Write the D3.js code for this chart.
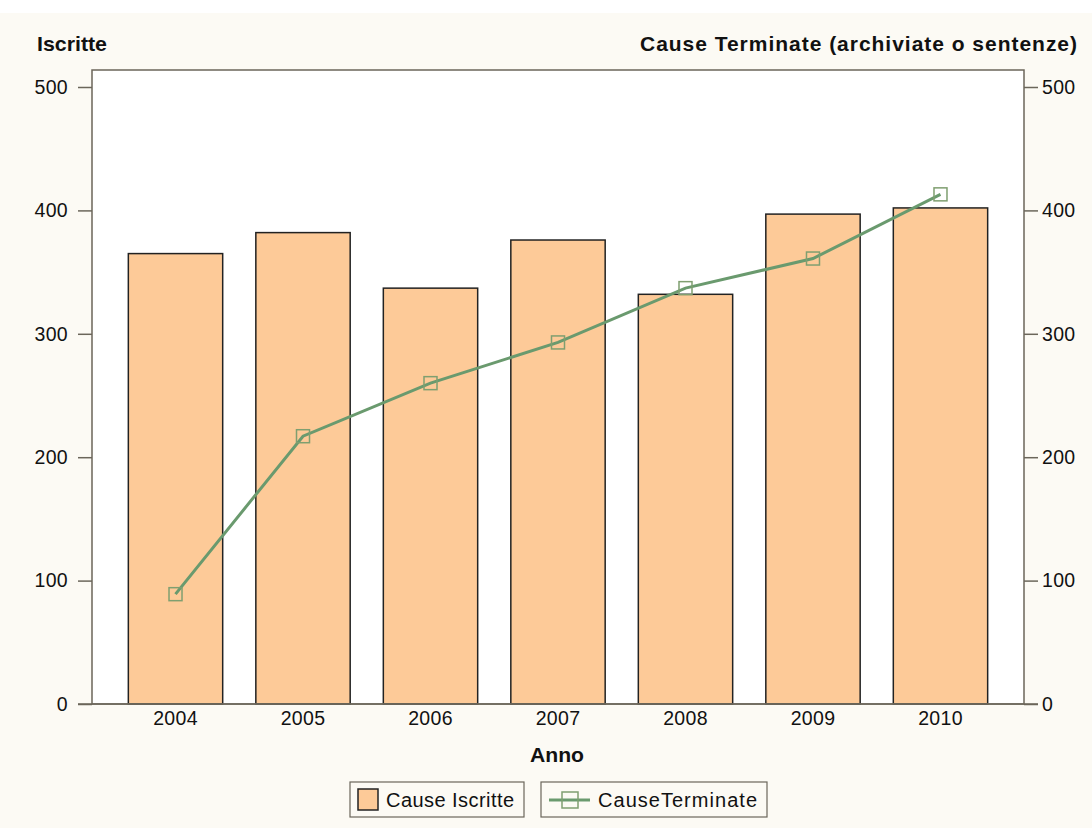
<!DOCTYPE html>
<html><head><meta charset="utf-8">
<script src="https://cdn.jsdelivr.net/npm/d3@7"></script>
<style>body{margin:0;background:#fff;} text{font-family:"Liberation Sans",Arial,sans-serif;}</style>
</head><body>
<svg id="c" width="1092" height="828"></svg>
<script>
const years = ["2004","2005","2006","2007","2008","2009","2010"];
const causeIscritte = [365, 382, 337, 376, 332, 397, 402];
const causeTerminate = [89, 217, 260, 293, 337, 361, 413];
const yTicks = [0, 100, 200, 300, 400, 500];
const leftTitle = "Iscritte";
const rightTitle = "Cause Terminate (archiviate o sentenze)";
const xTitle = "Anno";
const legendLabels = ["Cause Iscritte", "CauseTerminate"];

const svg = d3.select("#c");
const W = 1092, H = 828;
const L = 92, R = 1024, T = 70, B = 704;
const axisCol = "#6b665a";
const barFill = "#fdca98";
const lineCol = "#6a9a6e";
const markCol = "#7f9f70";

svg.append("rect").attr("x",0).attr("y",13).attr("width",W).attr("height",H-13).attr("fill","#fcfaf4");
svg.append("rect").attr("x",L).attr("y",T).attr("width",R-L).attr("height",B-T).attr("fill","#fff");

const x = d3.scaleBand().domain(years).range([L,R]).paddingInner(0.26).paddingOuter(0.285);
const y = d3.scaleLinear().domain([0,500]).range([B,87]);
const y2 = d3.scaleLinear().domain([0,500]).range([B,87]);

// bars
svg.append("g").selectAll("rect").data(years).join("rect")
  .attr("x", d=>x(d)).attr("width", x.bandwidth())
  .attr("y", (d,i)=>y(causeIscritte[i])).attr("height",(d,i)=>B-y(causeIscritte[i]))
  .attr("fill", barFill).attr("stroke","#222").attr("stroke-width",1.5);

// frame
svg.append("rect").attr("x",L).attr("y",T).attr("width",R-L).attr("height",B-T)
  .attr("fill","none").attr("stroke",axisCol).attr("stroke-width",1.5);

// axes
const fmt = d3.format("d");
const la = svg.append("g").attr("transform",`translate(${L},0)`)
  .call(d3.axisLeft(y).tickValues(yTicks).tickFormat(fmt).tickSize(14).tickPadding(10));
const ra = svg.append("g").attr("transform",`translate(${R},0)`)
  .call(d3.axisRight(y2).tickValues(yTicks).tickFormat(fmt).tickSize(14).tickPadding(4));
const xa = svg.append("g").attr("transform",`translate(0,${B})`)
  .call(d3.axisBottom(x).tickSize(0).tickPadding(7));
[la,ra,xa].forEach(g=>{
  g.attr("font-size",null).attr("font-family",null);
  g.select(".domain").remove();
  g.selectAll("line").attr("stroke",axisCol).attr("stroke-width",1.5);
  g.selectAll("text").attr("fill","#111").attr("font-size","19.5px").attr("letter-spacing","0.3px")
   .attr("font-family","'Liberation Sans',Arial,sans-serif");
});
svg.append("line").attr("x1",L-14).attr("x2",R+14).attr("y1",B).attr("y2",B).attr("stroke",axisCol).attr("stroke-width",1.5);

// line
const line = d3.line().x((d,i)=>x(years[i])+x.bandwidth()/2).y(d=>y2(d));
svg.append("path").datum(causeTerminate).attr("d",line).attr("fill","none")
  .attr("stroke",lineCol).attr("stroke-width",3);
svg.append("g").selectAll("rect").data(causeTerminate).join("rect")
  .attr("x",(d,i)=>x(years[i])+x.bandwidth()/2-6.5).attr("y",d=>y2(d)-6.5)
  .attr("width",13).attr("height",13).attr("fill","none").attr("stroke",markCol).attr("stroke-width",1.5);

// titles
svg.append("text").attr("x",37).attr("y",51).text(leftTitle)
  .attr("font-size","21px").attr("font-weight","bold").attr("fill","#111")
  .attr("textLength",70).attr("lengthAdjust","spacingAndGlyphs");
svg.append("text").attr("x",640).attr("y",51).text(rightTitle)
  .attr("font-size","21px").attr("font-weight","bold").attr("fill","#111")
  .attr("textLength",437).attr("lengthAdjust","spacing");
svg.append("text").attr("x",530).attr("y",762).text(xTitle)
  .attr("font-size","21px").attr("font-weight","bold").attr("fill","#111")
  .attr("textLength",54).attr("lengthAdjust","spacingAndGlyphs");

// legend
const lg = svg.append("g");
lg.append("rect").attr("x",350).attr("y",782).attr("width",174).attr("height",35).attr("fill","none").attr("stroke","#6b665a").attr("stroke-width",1.2);
lg.append("rect").attr("x",358).attr("y",789).attr("width",20).attr("height",21).attr("fill",barFill).attr("stroke","#222").attr("stroke-width",1.5);
lg.append("text").attr("x",386).attr("y",807).text(legendLabels[0]).attr("font-size","20px").attr("fill","#111")
  .attr("textLength",128).attr("lengthAdjust","spacing");
lg.append("rect").attr("x",541).attr("y",782).attr("width",226).attr("height",35).attr("fill","none").attr("stroke","#6b665a").attr("stroke-width",1.2);
lg.append("line").attr("x1",549).attr("x2",590).attr("y1",800).attr("y2",800).attr("stroke",lineCol).attr("stroke-width",3);
lg.append("rect").attr("x",562).attr("y",792).attr("width",16).attr("height",16).attr("fill","none").attr("stroke",markCol).attr("stroke-width",1.5);
lg.append("text").attr("x",598).attr("y",807).text(legendLabels[1]).attr("font-size","20px").attr("fill","#111")
  .attr("textLength",159).attr("lengthAdjust","spacing");
</script>
</body></html>
